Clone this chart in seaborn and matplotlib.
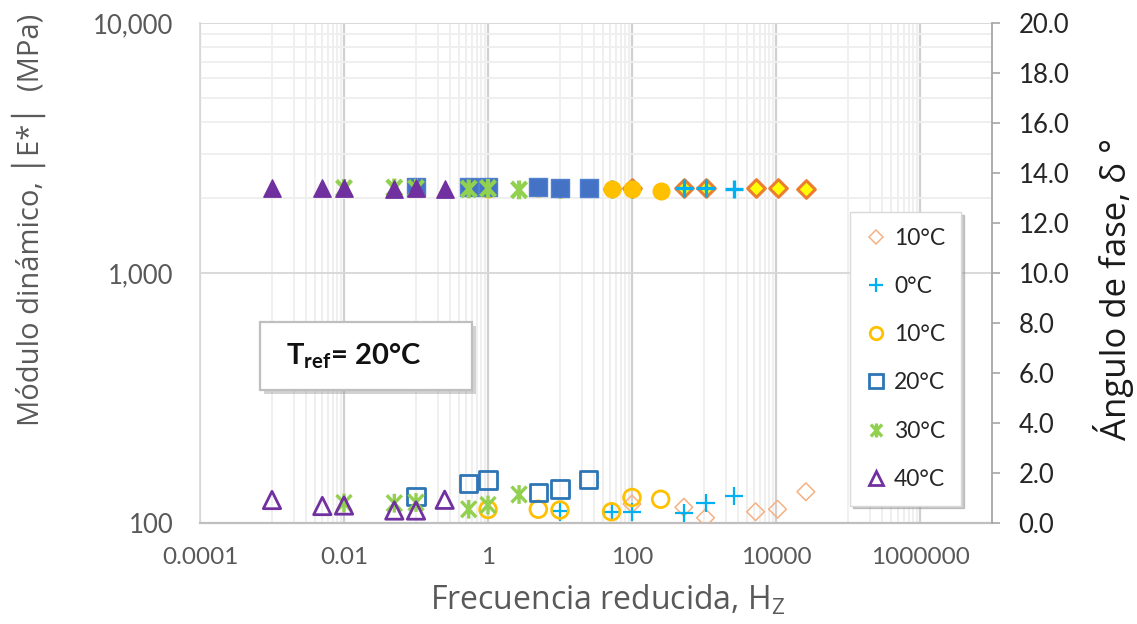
import numpy as np
import pandas as pd
import matplotlib
matplotlib.use("Agg")
import matplotlib.pyplot as plt
import seaborn as sns
from matplotlib.lines import Line2D
from matplotlib.patches import Rectangle
from matplotlib.path import Path
import matplotlib.patheffects as pe
from matplotlib.ticker import FixedLocator, FixedFormatter, NullFormatter

# ---------------- data ----------------
series_labels = ["10°C", "0°C", "10°C", "20°C", "30°C", "40°C"]

freq_m10 = [100, 525, 1050, 5200, 10500, 26000]
freq_0 = [10, 52, 100, 525, 1050, 2600]
freq_10 = [1, 5, 10, 52, 100, 250]
freq_20 = [0.1, 0.54, 1, 5, 10, 25]
freq_30 = [0.01, 0.05, 0.1, 0.54, 1, 2.7]
freq_40 = [0.001, 0.005, 0.01, 0.05, 0.1, 0.25]

# dynamic modulus |E*| (MPa) - left axis (filled markers)
E_m10 = [2180, 2190, 2180, 2180, 2180, 2160]
E_0 = [2170, 2170, 2170, 2190, 2180, 2170]
E_10 = [2170, 2180, 2170, 2170, 2170, 2130]
E_20 = [2200, 2210, 2210, 2210, 2180, 2190]
E_30 = [2180, 2190, 2180, 2170, 2180, 2150]
E_40 = [2180, 2180, 2190, 2170, 2180, 2160]

# phase angle (deg) - right axis (hollow markers)
phase_m10 = [0.76, 0.63, 0.21, 0.45, 0.55, 1.25]
phase_0 = [0.46, 0.45, 0.45, 0.39, 0.79, 1.08]
phase_10 = [0.54, 0.55, 0.52, 0.45, 1.02, 0.95]
phase_20 = [1.05, 1.59, 1.72, 1.22, 1.36, 1.75]
phase_30 = [0.80, 0.79, 0.82, 0.55, 0.72, 1.14]
phase_40 = [0.92, 0.68, 0.70, 0.50, 0.50, 0.93]

x_tick_values = [1e-4, 1e-2, 1, 1e2, 1e4, 1e6]
x_tick_labels = ["0.0001", "0.01", "1", "100", "10000", "1000000"]
y_tick_values = [100, 1000, 10000]
y_tick_labels = ["100", "1,000", "10,000"]
y2_tick_values = [0, 2, 4, 6, 8, 10, 12, 14, 16, 18, 20]

freqs = [freq_m10, freq_0, freq_10, freq_20, freq_30, freq_40]
Es = [E_m10, E_0, E_10, E_20, E_30, E_40]
phases = [phase_m10, phase_0, phase_10, phase_20, phase_30, phase_40]

# ---------------- styles ----------------
# Excel-like star marker: an "X" with a vertical bar through it
STAR = Path([(-0.8, -0.85), (0.8, 0.85), (-0.8, 0.85), (0.8, -0.85), (0, -1), (0, 1)],
            [Path.MOVETO, Path.LINETO, Path.MOVETO, Path.LINETO, Path.MOVETO, Path.LINETO])
styles = [
    dict(m="D", hol="#F4B183", face="#FFFF00", edge="#ED7D31", ms=9.0, hlw=1.1, flw=2.2, open=False),
    dict(m="+", hol="#00B0F0", face="#00B0F0", edge="#00B0F0", ms=13, hlw=1.6, flw=2.4, open=True),
    dict(m="o", hol="#FFC000", face="#FFC000", edge="#FFC000", ms=12, hlw=2.0, flw=1.0, open=False),
    dict(m="s", hol="#2E75B6", face="#4472C4", edge="#4F81D0", ms=12.5, hlw=2.0, flw=1.0, open=False),
    dict(m=STAR, hol="#92D050", face="#92D050", edge="#92D050", ms=13.5, hlw=2.4, flw=3.0, open=True),
    dict(m="^", hol="#7030A0", face="#7030A0", edge="#7030A0", ms=12.5, hlw=2.0, flw=1.0, open=False),
]

sns.set_style("white")
plt.rcParams["font.family"] = ["Lato", "DejaVu Sans"]
plt.rcParams["mathtext.fontset"] = "custom"
plt.rcParams["mathtext.rm"] = "Open Sans"
plt.rcParams["mathtext.bf"] = "Lato:bold"

fig = plt.figure(figsize=(11.37, 6.24), dpi=100)
ax = fig.add_axes([0.17590, 0.16186, 0.69657, 0.80128])
ax.set_xscale("log")
ax.set_yscale("log")
ax2 = ax.twinx()

for i, st in enumerate(styles):
    df = pd.DataFrame({"f": freqs[i], "E": Es[i], "d": phases[i]})
    # filled markers: dynamic modulus
    sns.scatterplot(data=df, x="f", y="E", ax=ax, marker=st["m"], s=st["ms"] ** 2,
                    color=st["face"], legend=False, zorder=3 + i)
    c = ax.collections[-1]
    if st["open"]:
        c.set_facecolor("none")
        c.set_edgecolor(st["face"])
    else:
        c.set_facecolor(st["face"])
        c.set_edgecolor(st["edge"])
    c.set_linewidth(st["flw"])
    # hollow markers: phase angle
    sns.scatterplot(data=df, x="f", y="d", ax=ax2, marker=st["m"], s=st["ms"] ** 2,
                    color=st["hol"], legend=False, zorder=3 + i)
    c2 = ax2.collections[-1]
    c2.set_facecolor("none")
    c2.set_edgecolor(st["hol"])
    c2.set_linewidth(st["hlw"])

ax.set_xlim(1e-4, 1e7)
ax.set_ylim(100, 10000)
ax2.set_ylim(0, 20)

# ticks
ax.xaxis.set_major_locator(FixedLocator(x_tick_values))
ax.xaxis.set_major_formatter(FixedFormatter(x_tick_labels))
minor_x = [k * 10.0 ** d for d in (-3, -1, 1, 3, 5) for k in range(1, 10)]
ax.xaxis.set_minor_locator(FixedLocator(minor_x))
ax.xaxis.set_minor_formatter(NullFormatter())
ax.yaxis.set_major_locator(FixedLocator(y_tick_values))
ax.yaxis.set_major_formatter(FixedFormatter(y_tick_labels))
ax.yaxis.set_minor_locator(FixedLocator([k * 1000 for k in range(2, 10)]))
ax.yaxis.set_minor_formatter(NullFormatter())

ax.grid(which="major", axis="x", color="#d0d0d0", lw=1.6, zorder=0)
ax.grid(which="minor", axis="x", color="#efefef", lw=1.4, zorder=0)
ax.grid(which="major", axis="y", color="#d9d9d9", lw=1.4, zorder=0)
ax.grid(which="minor", axis="y", color="#efefef", lw=1.4, zorder=0)
ax.set_axisbelow(True)

ax.tick_params(axis="both", which="both", length=0)
ax.tick_params(axis="y", labelsize=18.5, labelcolor="#595959", pad=19)
ax.tick_params(axis="x", labelsize=17.5, labelcolor="#595959", pad=17)

ax2.set_yticks(y2_tick_values)
ax2.set_yticklabels([f"{v:.1f}" for v in y2_tick_values])
ax2.tick_params(axis="y", direction="out", length=6, width=1.2, color="#a6a6a6",
                labelsize=18.5, labelcolor="#262626", pad=13)

for s in ["top", "right"]:
    ax.spines[s].set_visible(False)
ax.spines["left"].set_color("#d9d9d9")
ax.spines["left"].set_linewidth(1.3)
ax.spines["bottom"].set_color("#bfbfbf")
ax.spines["bottom"].set_linewidth(1.6)
for s in ["top", "left", "bottom"]:
    ax2.spines[s].set_visible(False)
ax2.spines["right"].set_color("#a6a6a6")
ax2.spines["right"].set_linewidth(1.3)

ax.set_xlabel(r"Frecuencia reducida, H$\mathregular{_Z}$", fontsize=23, color="#595959",
              family=["Open Sans", "DejaVu Sans"])
ax.xaxis.set_label_coords(0.514, -0.120)
ax.set_ylabel("Módulo dinámico, │E*│  (MPa)", fontsize=21, color="#595959",
              family=["Open Sans", "DejaVu Sans"])
ax.yaxis.set_label_coords(-0.1944, 0.606)
ax2.set_ylabel("Ángulo de fase, δ °", fontsize=25, color="#1a1a1a",
               family=["Open Sans", "DejaVu Sans"])
ax2.yaxis.set_label_coords(1.128, 0.468)

# legend (hollow markers only)
handles = []
for st in styles:
    handles.append(Line2D([], [], ls="none", marker=st["m"], markersize=st["ms"] * 0.75,
                          markerfacecolor="none", markeredgecolor=st["hol"],
                          markeredgewidth=st["hlw"], color=st["hol"]))
leg = ax2.legend(handles, series_labels, loc="upper left", bbox_to_anchor=(0.8207, 0.622),
                 borderaxespad=0, frameon=True, fancybox=False, fontsize=16.5,
                 labelspacing=1.19, handlelength=0.9, handletextpad=0.35, borderpad=0.68,
                 shadow={"color": "0.55", "alpha": 0.45})
leg.get_frame().set_edgecolor("#d9d9d9")
leg.get_frame().set_linewidth(1.0)
for t in leg.get_texts():
    t.set_color("#262626")

# T_ref box
box = Rectangle((0.0758, 0.266), 0.2676, 0.136, transform=ax2.transAxes, facecolor="white",
                edgecolor="#bfbfbf", lw=1.6, zorder=20)
box.set_path_effects([pe.SimplePatchShadow(offset=(3, -3), shadow_rgbFace="0.5", alpha=0.35),
                      pe.Normal()])
ax2.add_patch(box)
ax2.text(0.1944, 0.334, r"$\mathbf{T_{ref}}$= 20°C", transform=ax2.transAxes, ha="center",
         va="center", fontsize=21, fontweight="bold", color="#111111", zorder=21)

fig.savefig("out.png", dpi=100)
